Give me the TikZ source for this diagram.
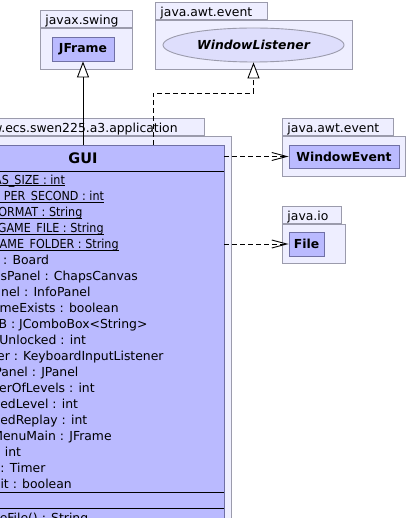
\documentclass[tikz,border=0pt]{standalone}
\usepackage{fontspec}
\setmainfont{DejaVu Sans}
\usepackage{graphicx}
\usepackage{xcolor}
\usepackage{tikz}
\usetikzlibrary{arrows.meta, shapes.geometric}

\definecolor{pkgfill}{RGB}{238,238,255}
\definecolor{pkgline}{RGB}{155,155,172}
\definecolor{clsfill}{RGB}{186,186,255}
\definecolor{clsline}{RGB}{112,112,165}
\definecolor{ififill}{RGB}{222,222,252}

\newcommand{\umlfont}{\fontsize{12.4}{15}\selectfont}
\newcommand{\statattr}[1]{\scalebox{0.9}[1]{\setbox0=\hbox{#1}\rlap{\rule[-1.9pt]{\wd0}{0.9pt}}\box0}}

\begin{document}
\begin{tikzpicture}[x=1pt, y=-1pt, line width=0.9pt,
    pkgbody/.style={draw=pkgline, fill=pkgfill, anchor=north west, inner sep=0pt},
    pkgtab/.style={draw=pkgline, fill=pkgfill, anchor=south west, align=left,
        text width=#1, inner xsep=5pt, inner ysep=2pt, text height=11.5pt,
        text depth=1.5pt, font=\umlfont},
    clsbox/.style={draw=clsline, fill=clsfill, inner sep=0pt, font=\umlfont\bfseries},
    attr/.style={anchor=base west, inner sep=0pt, font=\umlfont},
    inherit/.style={-{Triangle[open, length=16pt, width=12pt, fill=white]}},
    realize/.style={dash pattern=on 5pt off 3pt, -{Triangle[open, length=16pt, width=12pt, fill=white]}},
    depend/.style={dash pattern=on 5pt off 3pt, -{Straight Barb[length=15pt, width=8pt]}}]
    \useasboundingbox (0,0) rectangle (410,518);
    \fill[white] (0,0) rectangle (410,518);
    \clip (0,0) rectangle (410,518);

    % 1. Packages
    \node[pkgbody, minimum width=92pt, minimum height=41pt] (swingPkg) at (40,28) {};
    \node[pkgtab=82pt] (swingTab) at (swingPkg.north west) {javax.swing};

    \node[pkgbody, minimum width=197pt, minimum height=49pt] (awtPkg) at (155,20) {};
    \node[pkgtab=102pt] (awtTab) at (awtPkg.north west) {java.awt.event};

    \node[pkgbody, minimum width=296pt, minimum height=500pt] (appPkg) at (-65,136) {};
    \node[pkgtab=259pt] (appTab) at (appPkg.north west) {nz.ac.vuw.ecs.swen225.a3.application};

    \node[pkgbody, minimum width=123pt, minimum height=40pt] (eventPkg) at (282,136) {};
    \node[pkgtab=101pt] (eventTab) at (eventPkg.north west) {java.awt.event};

    \node[pkgbody, minimum width=63pt, minimum height=39pt] (ioPkg) at (282,224) {};
    \node[pkgtab=49pt] (ioTab) at (ioPkg.north west) {java.io};

    % 2. Classes and interface
    \node[clsbox, minimum width=62pt, minimum height=24pt] (jframe) at (83,49) {JFrame};
    \node[ellipse, draw=pkgline, fill=ififill, inner sep=0pt, minimum width=181pt,
        minimum height=34pt, font=\umlfont\bfseries\itshape] (winListener) at (253.5,45) {WindowListener};
    \node[clsbox, minimum width=110pt, minimum height=23pt] (winEvent) at (344,156.5) {WindowEvent};
    \node[clsbox, minimum width=35pt, minimum height=24pt] (file) at (306.5,244) {File};

    % 3. Class GUI
    \node[clsbox, anchor=north, minimum width=282pt, minimum height=460pt] (gui) at (83,145) {};
    \node[font=\fontsize{14.5}{17}\selectfont\bfseries, inner sep=0pt] (guiTitle) at (83,158) {GUI};
    \draw ([yshift=-26pt]gui.north west) -- ([yshift=-26pt]gui.north east);
    \draw ([yshift=-347pt]gui.north west) -- ([yshift=-347pt]gui.north east);
    \draw ([yshift=-363pt]gui.north west) -- ([yshift=-363pt]gui.north east);

    \node[attr] (a0) at (-37,184.5) {\statattr{CANVAS\_SIZE : int}};
    \node[attr] (a1) at (-37,200.5) {\statattr{STEPS\_PER\_SECOND : int}};
    \node[attr] (a2) at (-37,216.5) {\statattr{FILE\_FORMAT : String}};
    \node[attr] (a3) at (-37,232.5) {\statattr{SAVE\_GAME\_FILE : String}};
    \node[attr] (a4) at (-37,248.5) {\statattr{DEF\_GAME\_FOLDER : String}};
    \node[attr] (a5) at (-37,264.5) {board : Board};
    \node[attr] (a6) at (-37,280.5) {canvasPanel : ChapsCanvas};
    \node[attr] (a7) at (-37,296.5) {infoPanel : InfoPanel};
    \node[attr] (a8) at (-37,312.5) {oldGameExists : boolean};
    \node[attr] (a9) at (-37,328.5) {loadCB : JComboBox<String>};
    \node[attr] (a10) at (-37,344.5) {levelsUnlocked : int};
    \node[attr] (a11) at (-37,360.5) {listener : KeyboardInputListener};
    \node[attr] (a12) at (-37,376.5) {mainPanel : JPanel};
    \node[attr] (a13) at (-37,392.5) {numberOfLevels : int};
    \node[attr] (a14) at (-37,408.5) {selectedLevel : int};
    \node[attr] (a15) at (-37,424.5) {selectedReplay : int};
    \node[attr] (a16) at (-37,440.5) {startMenuMain : JFrame};
    \node[attr] (a17) at (-37,456.5) {time : int};
    \node[attr] (a18) at (-37,472.5) {timer : Timer};
    \node[attr] (a19) at (-37,488.5) {hasExit : boolean};
    \node[attr] (m0) at (-37,522) {chooseFile() : String};

    % 4. Relations
    \draw[inherit] (gui) -- (jframe);
    \draw[realize] ([xshift=70pt]gui.north) |- ([yshift=-31pt]winListener.south) -- (winListener.south);
    \draw[depend] (gui.east |- winEvent.west) -- (winEvent.west);
    \draw[depend] (gui.east |- file.west) -- (file.west);
\end{tikzpicture}
\end{document}
